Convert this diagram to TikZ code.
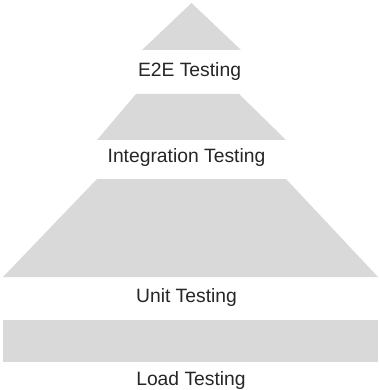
\documentclass[tikz,border=0pt]{standalone}
\usepackage{fontspec}
\setmainfont{Liberation Sans}
\begin{document}
\begin{tikzpicture}[x=1pt,y=-1pt,
  layer/.style={fill=black!15,draw=none},
  lbl/.style={anchor=base,inner sep=0pt,font=\fontsize{19.3}{22}\selectfont,text=black!85}]
\useasboundingbox (0,0) rectangle (379,390);
\fill[white] (0,0) rectangle (379,390);
\path[layer] (191.5,3) -- (241,50) -- (142,50) -- cycle;
\path[layer] (136,94) -- (239,94) -- (286,140) -- (97,140) -- cycle;
\path[layer] (97,179) -- (286,179) -- (378,277) -- (3,277) -- cycle;
\path[layer] (3,320) rectangle (378,362);
\node[lbl] (e2e) at (189.5,77) {E2E Testing};
\node[lbl] (int) at (186.5,162) {Integration Testing};
\node[lbl] (unit) at (186.5,302.5) {Unit Testing};
\node[lbl] (load) at (191,385) {Load Testing};
\end{tikzpicture}
\end{document}
